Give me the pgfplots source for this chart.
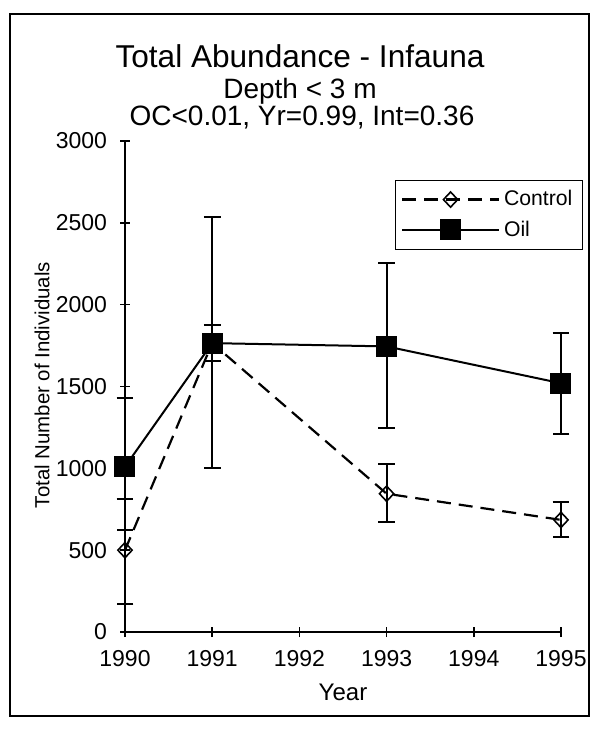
\documentclass[border=0pt]{standalone}
\usepackage{pgfplots}
\pgfplotsset{compat=1.18}
\usepackage{fontspec}
\setmainfont{Liberation Sans}

\pgfplotstableread{
x     y     ep   em
1990  500   312  329
1991  1765  108  108
1993  845   180  175
1995  685   110  105
}\control

\pgfplotstableread{
x     y     ep   em
1990  1010  420  387
1991  1765  772  765
1993  1745  509  499
1995  1520  309  310
}\oil

\begin{document}
\begin{tikzpicture}
\useasboundingbox (0,0) rectangle (297pt,365pt);
\draw[line width=0.7pt] (5pt,7pt) rectangle (294.5pt,358pt);
\node[font=\fontsize{15.8}{18}\selectfont] at (150pt,337pt) {Total Abundance - Infauna};
\node[font=\fontsize{14}{16}\selectfont] at (150pt,319.5pt) {Depth < 3 m};
\node[font=\fontsize{14}{16}\selectfont] at (151pt,306pt) {OC<0.01, Yr=0.99, Int=0.36};

\begin{axis}[
    at={(62.5pt,49pt)}, anchor=south west,
    scale only axis, width=218pt, height=245.5pt,
    clip=false,
    xmin=1990, xmax=1995,
    ymin=0, ymax=3000,
    axis x line=bottom, axis y line=left,
    axis line style={-, line width=0.8pt},
    xtick={1990,1991,1992,1993,1994,1995},
    ytick={0,500,1000,1500,2000,2500,3000},
    tick align=center, major tick length=5pt,
    tick style={line width=0.8pt, black},
    /pgf/number format/1000 sep={},
    /pgf/number format/assume math mode=true,
    ticklabel style={font=\fontsize{11.5}{13}\selectfont},
    yticklabel style={xshift=-3pt},
    xticklabel style={yshift=-3pt},
    xlabel={Year},
    ylabel={Total Number of Individuals},
    xlabel style={font=\fontsize{12}{14}\selectfont, at={(axis description cs:0.5,-0.122)}, anchor=center},
    ylabel style={font=\fontsize{10.2}{12}\selectfont, at={(axis description cs:-0.19,0.503)}, anchor=center},
    legend style={at={(1.05,0.9206)}, anchor=north east, draw=black,
        font=\fontsize{10.6}{12}\selectfont, row sep=2pt, inner sep=3pt,
        cells={anchor=west}},
    legend image code/.code={\draw[mark repeat=2,mark phase=2,#1]
        plot coordinates {(0cm,0cm) (0.85cm,0cm) (1.7cm,0cm)};},
]

\addplot[black, line width=1.1pt, dash pattern=on 7pt off 4pt,
    mark=diamond, mark size=3.8pt,
    mark options={solid, fill=white, line width=0.8pt, xscale=1.25},
    error bars/.cd, y dir=both, y explicit,
    error bar style={solid, line width=1pt},
    error mark options={rotate=90, solid, line width=1pt, mark size=4.2pt}]
    table[x=x, y=y, y error plus=ep, y error minus=em] {\control};
\addlegendentry{Control}

\addplot[black, line width=1pt,
    mark=square*, mark size=4.75pt, mark options={solid},
    error bars/.cd, y dir=both, y explicit,
    error bar style={solid, line width=1pt},
    error mark options={rotate=90, solid, line width=1pt, mark size=4.2pt}]
    table[x=x, y=y, y error plus=ep, y error minus=em] {\oil};
\addlegendentry{Oil}

\end{axis}
\end{tikzpicture}
\end{document}
